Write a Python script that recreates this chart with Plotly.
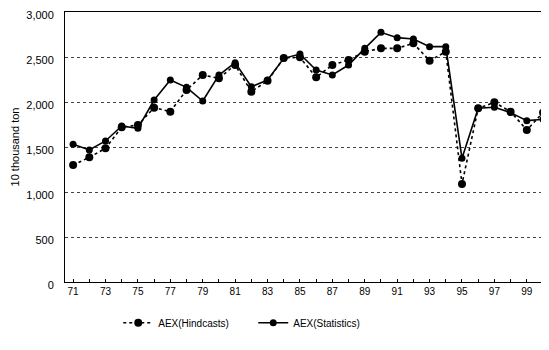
import plotly.graph_objects as go

years = list(range(1971, 2001))
hindcasts = [1300, 1385, 1485, 1720, 1744, 1937, 1893, 2133, 2300, 2263,
             2411, 2115, 2235, 2490, 2496, 2274, 2411, 2467, 2559, 2596,
             2596, 2652, 2459, 2559, 1089, 1930, 1996, 1893, 1689, 1882]
statistics = [1530, 1467, 1567, 1733, 1707, 2022, 2244, 2163, 2011, 2300,
              2437, 2170, 2244, 2485, 2533, 2356, 2300, 2411, 2596, 2774,
              2715, 2700, 2615, 2615, 1374, 1930, 1941, 1882, 1793, 1807]
tick_years = list(range(1971, 2001))
tick_labels = [str(y % 100) if (y % 2 == 1) else "" for y in tick_years]
y_ticks = [0, 500, 1000, 1500, 2000, 2500, 3000]
y_labels = ["0", "500", "1,000", "1,500", "2,000", "2,500", "3,000"]

FONT = "Liberation Sans, Arial, sans-serif"

fig = go.Figure()
fig.add_trace(go.Scatter(
    x=years, y=hindcasts, name="AEX(Hindcasts)", mode="lines+markers",
    line=dict(color="black", width=1.6, dash="dot"),
    marker=dict(color="black", size=8, symbol="circle"), cliponaxis=False))
fig.add_trace(go.Scatter(
    x=years, y=statistics, name="AEX(Statistics)", mode="lines+markers",
    line=dict(color="black", width=1.6),
    marker=dict(color="black", size=7, symbol="circle"), cliponaxis=False))

fig.update_layout(
    width=541, height=334,
    margin=dict(l=57, r=0, t=4, b=60, autoexpand=False),
    paper_bgcolor="white", plot_bgcolor="white",
    font=dict(family=FONT, size=10, color="black"),
    showlegend=True,
    legend=dict(orientation="h", x=0.11, y=-0.151, xanchor="left", yanchor="middle",
                entrywidth=90, entrywidthmode="pixels",
                font=dict(size=10, family=FONT)),
)
fig.update_xaxes(
    range=[1970.5, 2000.37], tickvals=tick_years, ticktext=tick_labels,
    automargin=False,
    showgrid=False, zeroline=False,
    showline=True, linecolor="black", linewidth=1, mirror=True,
    ticks="inside", ticklen=3, tickcolor="black",
    tickfont=dict(size=10, family=FONT),
)
fig.update_yaxes(
    range=[0, 3000], tickvals=y_ticks, ticktext=y_labels,
    automargin=False, ticklabeloverflow="allow", ticklabelshift=3,
    title=dict(text="10 thousand ton", standoff=4, font=dict(size=11)),
    showgrid=True, gridcolor="#444", gridwidth=1, griddash="dot",
    zeroline=False, showline=True, linecolor="black", linewidth=1, mirror=True,
    ticks="", ticklabelstandoff=8, tickfont=dict(size=11, family=FONT),
)
fig.write_html("out.html")
